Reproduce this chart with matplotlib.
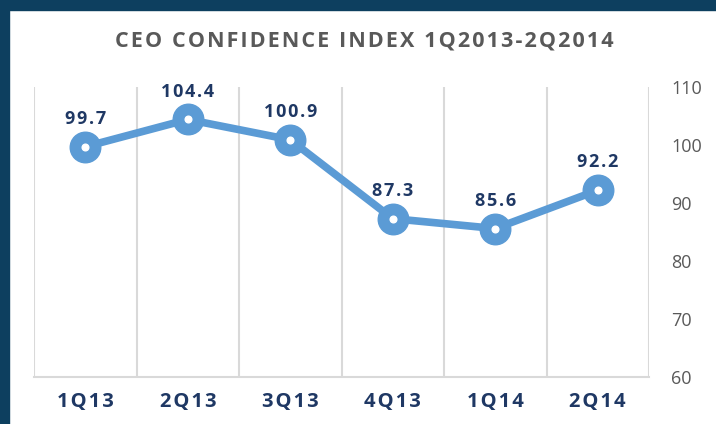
import numpy as np
import matplotlib
matplotlib.use("Agg")
import matplotlib.pyplot as plt
from matplotlib.patches import Rectangle

quarters = ["1Q13", "2Q13", "3Q13", "4Q13", "1Q14", "2Q14"]
index_vals = [99.7, 104.4, 100.9, 87.3, 85.6, 92.2]
y_ticks = [60, 70, 80, 90, 100, 110]

NAVY = "#1f3864"
BLUE = "#5b9bd5"
GRAY = "#595959"
FRAME = "#0d3f5f"

plt.rcParams["font.family"] = ["Open Sans", "DejaVu Sans"]


def spaced(s, sep="\u200a"):
    # emulate the wide letter spacing of the original
    return sep.join(s)


fig = plt.figure(figsize=(7.16, 4.24), dpi=100)
W, H = 716, 424
ax = fig.add_axes([34 / W, 1 - 377 / H, (649 - 34) / W, (377 - 87) / H])

x = np.arange(len(quarters))
ax.plot(x, index_vals, color=BLUE, lw=5.5, solid_capstyle="round", zorder=3)
ax.plot(x, index_vals, ls="none", marker="o", ms=22, mfc=BLUE, mec=BLUE, zorder=4)
ax.plot(x, index_vals, ls="none", marker="o", ms=4.8, mfc="white", mec="white", zorder=5)
for xi, v in zip(x, index_vals):
    ax.annotate(spaced(f"{v:.1f}"), (xi, v), xytext=(0, 16.5),
                textcoords="offset points", ha="center", va="baseline",
                fontsize=13, fontweight="bold", color=NAVY)

ax.set_xlim(-0.5, len(quarters) - 0.5)
ax.set_ylim(60, 110)
ax.set_xticks(x)
ax.set_xticklabels([spaced(q) for q in quarters], fontsize=14.5, fontweight="bold", color=NAVY)
ax.set_yticks(y_ticks)
ax.yaxis.tick_right()
ax.tick_params(axis="y", length=0, pad=16, labelsize=13, labelcolor=GRAY)
ax.tick_params(axis="x", length=0, pad=11)
for b in np.arange(-0.5, len(quarters) + 0.5, 1):
    ax.axvline(b, color="#d9d9d9", lw=1.5, zorder=1)
for s in ["top", "left", "right"]:
    ax.spines[s].set_visible(False)
ax.spines["bottom"].set_color("#d9d9d9")
ax.spines["bottom"].set_linewidth(1.5)

fig.text(364 / W, 1 - 41 / H, spaced("CEO CONFIDENCE INDEX 1Q2013-2Q2014"),
         ha="center", va="center", fontsize=15.5, fontweight="bold", color=GRAY)

# dark frame on top and left
fig.patches.append(Rectangle((0, 1 - 10 / H), 1, 10 / H, transform=fig.transFigure,
                             color=FRAME, zorder=10))
fig.patches.append(Rectangle((0, 0), 9 / W, 1, transform=fig.transFigure,
                             color=FRAME, zorder=10))

fig.savefig("out.png", dpi=100)
